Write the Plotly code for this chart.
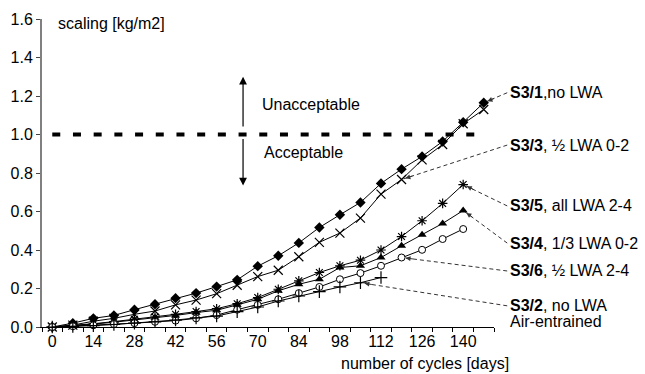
import math
import plotly.graph_objects as go

# ---------------- data ----------------
days = [0, 7, 14, 21, 28, 35, 42, 49, 56, 63, 70, 77, 84, 91, 98, 105, 112, 119, 126, 133, 140, 147]

s3_1 = [0, 0.02, 0.045, 0.06, 0.09, 0.118, 0.15, 0.176, 0.21, 0.245, 0.316, 0.37, 0.437, 0.517,
        0.583, 0.647, 0.746, 0.82, 0.886, 0.964, 1.064, 1.165]
s3_3 = [0, 0.01, 0.03, 0.045, 0.066, 0.083, 0.115, 0.14, 0.173, 0.217, 0.262, 0.295, 0.365, 0.44,
        0.488, 0.566, 0.69, 0.766, 0.868, 0.948, 1.056, 1.13]
s3_5 = [0, 0.008, 0.017, 0.028, 0.04, 0.052, 0.066, 0.08, 0.095, 0.121, 0.153, 0.196, 0.24, 0.283,
        0.318, 0.347, 0.40, 0.47, 0.552, 0.642, 0.74]
s3_4 = [0, 0.007, 0.015, 0.025, 0.036, 0.048, 0.06, 0.075, 0.087, 0.115, 0.144, 0.188, 0.222, 0.248,
        0.309, 0.318, 0.361, 0.422, 0.479, 0.538, 0.605]
s3_6 = [0, 0.004, 0.009, 0.015, 0.02, 0.027, 0.033, 0.045, 0.062, 0.09, 0.115, 0.144, 0.176, 0.208,
        0.248, 0.28, 0.318, 0.361, 0.401, 0.457, 0.509]
s3_2 = [0, 0.003, 0.007, 0.013, 0.02, 0.027, 0.036, 0.047, 0.057, 0.08, 0.104, 0.135, 0.161, 0.184,
        0.208, 0.23, 0.257]

x_tick_vals = [0, 14, 28, 42, 56, 70, 84, 98, 112, 126, 140]
y_tick_vals = [0, 0.2, 0.4, 0.6, 0.8, 1.0, 1.2, 1.4, 1.6]
limit_value = 1.0

FONT = "Liberation Sans, Arial, Helvetica, sans-serif"
W, H = 645, 374
ML, MR, MT, MB = 42, 151, 19, 47
XR = [-3.5, 150.5]
YR = [0, 1.6]
PX_DAY = (W - ML - MR) / (XR[1] - XR[0])
PX_Y = (H - MT - MB) / (YR[1] - YR[0])


def xpaper(d):
    return (d - XR[0]) / (XR[1] - XR[0])


fig = go.Figure()

series = [
    ("S3/1", s3_1, dict(symbol="diamond", size=8, color="black")),
    ("S3/3", s3_3, dict(symbol="x-thin-open", size=9, color="black", line=dict(width=1.2, color="black"))),
    ("S3/5", s3_5, dict(symbol="asterisk-open", size=8, color="black", line=dict(width=1.2, color="black"))),
    ("S3/4", s3_4, dict(symbol="triangle-up", size=8, color="black")),
    ("S3/6", s3_6, dict(symbol="circle", size=7, color="white", line=dict(width=1, color="black"))),
    ("S3/2", s3_2, dict(symbol="cross-thin-open", size=9, color="black", line=dict(width=1.2, color="black"))),
]
for name, vals, mk in series:
    fig.add_trace(go.Scatter(x=days[:len(vals)], y=vals, mode="lines+markers", name=name,
                             line=dict(color="black", width=1), marker=mk, showlegend=False,
                             cliponaxis=False))

shapes = []
annotations = []

# limit line
shapes.append(dict(type="line", xref="x", yref="y", x0=days[0], x1=days[-1], y0=limit_value, y1=limit_value,
                   line=dict(color="black", width=4, dash="8px,12.7px"), layer="below"))

# labels with dashed leader arrows
TX = 155.3
labels = [
    ("<b>S3/1</b>,no LWA", 1.217, 147, s3_1[days.index(147)]),
    ("<b>S3/3</b>, ½ LWA 0-2", 0.945, 119, s3_3[days.index(119)]),
    ("<b>S3/5</b>, all LWA 2-4", 0.629, 140, s3_5[days.index(140)]),
    ("<b>S3/4</b>, 1/3 LWA 0-2", 0.436, 140, s3_4[days.index(140)]),
    ("<b>S3/6</b>, ½ LWA 2-4", 0.291, 119, s3_6[days.index(119)]),
    ("<b>S3/2</b>, no LWA", 0.11, 105, s3_2[days.index(105)]),
]
for text, ty, d, v in labels:
    annotations.append(dict(x=xpaper(TX), y=ty, xref="paper", yref="y", text=text, showarrow=False,
                            xanchor="left", yanchor="middle", font=dict(size=16, color="black", family=FONT)))
    shapes.append(dict(type="line", xref="paper", yref="y", x0=xpaper(TX - 0.3), y0=ty, x1=xpaper(d), y1=v,
                       line=dict(color="#333333", width=1, dash="4px,3px"), layer="below"))
    dx = (TX - d) * PX_DAY
    dy = -(ty - v) * PX_Y
    L = math.hypot(dx, dy)
    annotations.append(dict(x=d, y=v, xref="x", yref="y", text="", showarrow=True,
                            ax=13 * dx / L, ay=13 * dy / L, arrowhead=2, arrowsize=1, arrowwidth=1,
                            arrowcolor="#333333", standoff=4))
annotations.append(dict(x=xpaper(TX), y=0.03, xref="paper", yref="y", text="Air-entrained", showarrow=False,
                        xanchor="left", yanchor="middle", font=dict(size=16, color="black", family=FONT)))

# acceptable/unacceptable arrows
annotations.append(dict(x=65, y=1.3, ax=65, ay=1.034, xref="x", yref="y", axref="x", ayref="y", text="",
                        showarrow=True, arrowhead=2, arrowsize=1.3, arrowwidth=1.2, arrowcolor="black"))
annotations.append(dict(x=65, y=0.735, ax=65, ay=0.985, xref="x", yref="y", axref="x", ayref="y", text="",
                        showarrow=True, arrowhead=2, arrowsize=1.3, arrowwidth=1.2, arrowcolor="black"))
annotations.append(dict(x=70.8, y=1.158, xref="x", yref="y", text="Unacceptable", showarrow=False,
                        xanchor="left", yanchor="middle", font=dict(size=16, color="black", family=FONT)))
annotations.append(dict(x=71.5, y=0.904, xref="x", yref="y", text="Acceptable", showarrow=False,
                        xanchor="left", yanchor="middle", font=dict(size=16, color="black", family=FONT)))

# axis titles
annotations.append(dict(x=1.3, y=1.578, xref="x", yref="y", text="scaling [kg/m2]", showarrow=False,
                        xanchor="left", yanchor="middle", font=dict(size=16, color="black", family=FONT)))
annotations.append(dict(x=xpaper(127), y=-0.117, xref="paper", yref="paper", text="number of cycles [days]",
                        showarrow=False, xanchor="center", yanchor="middle",
                        font=dict(size=16, color="black", family=FONT)))

minor_ticks = [XR[0] + 7 * k for k in range(23)]

fig.update_layout(
    width=W, height=H,
    margin=dict(l=ML, r=MR, t=MT, b=MB, pad=0),
    plot_bgcolor="white", paper_bgcolor="white",
    font=dict(family=FONT, size=16, color="black"),
    shapes=shapes, annotations=annotations,
    xaxis=dict(range=XR, tickmode="array", tickvals=x_tick_vals, ticktext=[str(v) for v in x_tick_vals],
               ticks="", showgrid=False, zeroline=False, showline=True, linecolor="black", linewidth=1,
               tickfont=dict(size=16), fixedrange=True,
               minor=dict(tickmode="array", tickvals=minor_ticks, ticks="outside", ticklen=4,
                          tickcolor="black", tickwidth=1, showgrid=False)),
    yaxis=dict(range=YR, tickmode="array", tickvals=y_tick_vals, tickformat=".1f",
               ticks="outside", ticklen=4, tickcolor="#444", tickwidth=1, showgrid=False, zeroline=False,
               showline=True, linecolor="#808080", linewidth=2, tickfont=dict(size=16), fixedrange=True),
)

fig.write_html("out.html")
